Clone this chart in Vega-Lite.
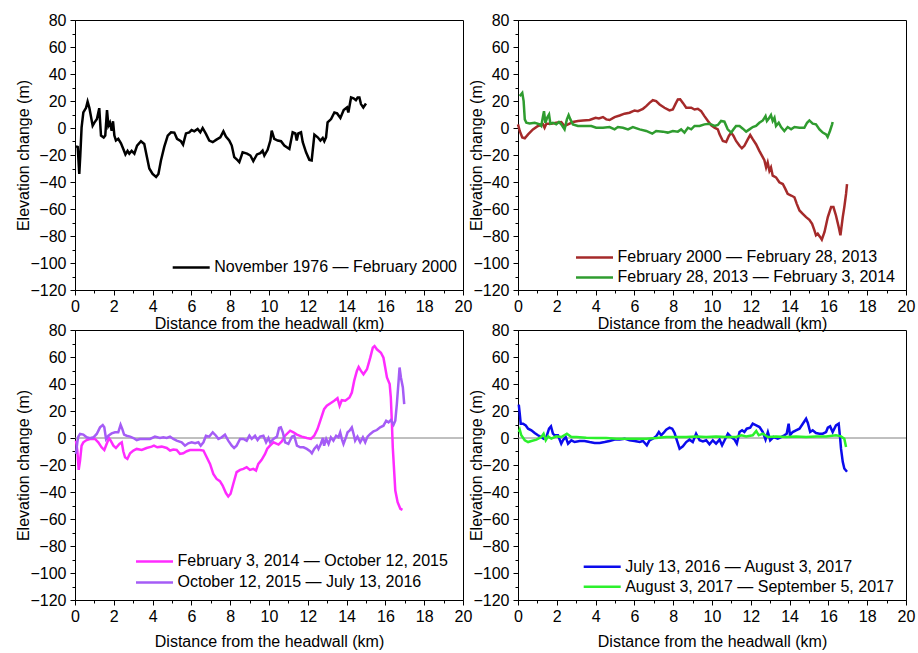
{
  "$schema": "https://vega.github.io/schema/vega-lite/v6.json",
  "background": "white",
  "padding": {"left": 14, "top": 11, "right": 5, "bottom": 5},
  "columns": 2,
  "spacing": {"row": 40, "column": 55},
  "bounds": "flush",
  "resolve": {"scale": {"color": "independent"}, "legend": {"color": "independent"}},
  "config": {
    "font": "Liberation Sans",
    "view": {"stroke": "#000000", "strokeWidth": 1},
    "axis": {
      "domainColor": "#000000", "tickColor": "#000000", "labelColor": "#000000", "titleColor": "#000000",
      "labelFont": "Liberation Sans", "labelFontSize": 16, "titleFont": "Liberation Sans", "titleFontSize": 16,
      "titleFontWeight": "normal", "grid": false, "labelFlush": false, "labelOverlap": false,
      "tickWidth": 1, "domainWidth": 1
    },
    "legend": {
      "orient": "none", "symbolType": "stroke", "symbolSize": 1369, "symbolStrokeWidth": 2.5,
      "labelFont": "Liberation Sans", "labelFontSize": 16, "labelColor": "#000000", "labelLimit": 0,
      "clipHeight": 16, "rowPadding": 4, "padding": 0, "labelOffset": 3
    }
  },
  "concat": [
    {
      "width": 388, "height": 270,
      "data": {"values": [
        {"km":0.05,"dz":-13.7,"s":"A"},{"km":0.14,"dz":-14,"s":"A"},{"km":0.22,"dz":-34,"s":"A"},{"km":0.27,"dz":-21,"s":"A"},{"km":0.34,"dz":0.5,"s":"A"},{"km":0.43,"dz":11.5,"s":"A"},{"km":0.57,"dz":15,"s":"A"},{"km":0.65,"dz":19.6,"s":"A"},{"km":0.74,"dz":15,"s":"A"},{"km":0.91,"dz":1.7,"s":"A"},{"km":1.0,"dz":4,"s":"A"},{"km":1.13,"dz":6.6,"s":"A"},{"km":1.25,"dz":14.7,"s":"A"},{"km":1.34,"dz":-5.6,"s":"A"},{"km":1.48,"dz":-7,"s":"A"},{"km":1.56,"dz":-5.6,"s":"A"},{"km":1.65,"dz":13.3,"s":"A"},{"km":1.72,"dz":1.7,"s":"A"},{"km":1.8,"dz":4,"s":"A"},{"km":1.89,"dz":-2,"s":"A"},{"km":1.96,"dz":5,"s":"A"},{"km":2.03,"dz":-5.6,"s":"A"},{"km":2.11,"dz":-9.3,"s":"A"},{"km":2.23,"dz":-8,"s":"A"},{"km":2.37,"dz":-11.3,"s":"A"},{"km":2.49,"dz":-15.5,"s":"A"},{"km":2.6,"dz":-19.6,"s":"A"},{"km":2.71,"dz":-17,"s":"A"},{"km":2.8,"dz":-19,"s":"A"},{"km":2.92,"dz":-17,"s":"A"},{"km":3.06,"dz":-19,"s":"A"},{"km":3.2,"dz":-13,"s":"A"},{"km":3.4,"dz":-9.8,"s":"A"},{"km":3.57,"dz":-11.8,"s":"A"},{"km":3.71,"dz":-21.6,"s":"A"},{"km":3.83,"dz":-30,"s":"A"},{"km":4.0,"dz":-34,"s":"A"},{"km":4.18,"dz":-36.3,"s":"A"},{"km":4.3,"dz":-34,"s":"A"},{"km":4.43,"dz":-24,"s":"A"},{"km":4.6,"dz":-14,"s":"A"},{"km":4.78,"dz":-5.6,"s":"A"},{"km":4.95,"dz":-3.2,"s":"A"},{"km":5.12,"dz":-3.4,"s":"A"},{"km":5.26,"dz":-8,"s":"A"},{"km":5.46,"dz":-9.8,"s":"A"},{"km":5.57,"dz":-12.3,"s":"A"},{"km":5.72,"dz":-4,"s":"A"},{"km":5.89,"dz":-3.2,"s":"A"},{"km":6.01,"dz":-1.5,"s":"A"},{"km":6.15,"dz":-2.5,"s":"A"},{"km":6.32,"dz":-0.7,"s":"A"},{"km":6.46,"dz":-3.2,"s":"A"},{"km":6.58,"dz":0,"s":"A"},{"km":6.75,"dz":-4.4,"s":"A"},{"km":6.92,"dz":-9.3,"s":"A"},{"km":7.1,"dz":-10.5,"s":"A"},{"km":7.27,"dz":-8.8,"s":"A"},{"km":7.49,"dz":-6.9,"s":"A"},{"km":7.65,"dz":-2.5,"s":"A"},{"km":7.78,"dz":-6.4,"s":"A"},{"km":7.95,"dz":-9.3,"s":"A"},{"km":8.08,"dz":-13,"s":"A"},{"km":8.21,"dz":-21.6,"s":"A"},{"km":8.39,"dz":-24,"s":"A"},{"km":8.47,"dz":-25.3,"s":"A"},{"km":8.64,"dz":-18,"s":"A"},{"km":8.87,"dz":-19,"s":"A"},{"km":9.04,"dz":-20.4,"s":"A"},{"km":9.19,"dz":-24.5,"s":"A"},{"km":9.38,"dz":-19.6,"s":"A"},{"km":9.55,"dz":-18.6,"s":"A"},{"km":9.67,"dz":-16.7,"s":"A"},{"km":9.76,"dz":-20.4,"s":"A"},{"km":9.93,"dz":-16.2,"s":"A"},{"km":10.07,"dz":-9.3,"s":"A"},{"km":10.14,"dz":-2,"s":"A"},{"km":10.27,"dz":-8,"s":"A"},{"km":10.45,"dz":-9.3,"s":"A"},{"km":10.62,"dz":-9.8,"s":"A"},{"km":10.79,"dz":-13,"s":"A"},{"km":11.05,"dz":-15.5,"s":"A"},{"km":11.22,"dz":-3.2,"s":"A"},{"km":11.36,"dz":-4,"s":"A"},{"km":11.43,"dz":-9.3,"s":"A"},{"km":11.51,"dz":-4,"s":"A"},{"km":11.65,"dz":-3.2,"s":"A"},{"km":11.74,"dz":-10.5,"s":"A"},{"km":11.91,"dz":-18,"s":"A"},{"km":12.08,"dz":-23.6,"s":"A"},{"km":12.2,"dz":-24,"s":"A"},{"km":12.34,"dz":-4.9,"s":"A"},{"km":12.51,"dz":-6.9,"s":"A"},{"km":12.65,"dz":-9.3,"s":"A"},{"km":12.77,"dz":-7.4,"s":"A"},{"km":12.85,"dz":-9.8,"s":"A"},{"km":12.94,"dz":-6.9,"s":"A"},{"km":13.02,"dz":4.2,"s":"A"},{"km":13.2,"dz":6.6,"s":"A"},{"km":13.37,"dz":11.5,"s":"A"},{"km":13.51,"dz":10.8,"s":"A"},{"km":13.68,"dz":7.4,"s":"A"},{"km":13.85,"dz":13.3,"s":"A"},{"km":14.02,"dz":15.2,"s":"A"},{"km":14.09,"dz":11.5,"s":"A"},{"km":14.23,"dz":22.6,"s":"A"},{"km":14.36,"dz":22,"s":"A"},{"km":14.48,"dz":20.6,"s":"A"},{"km":14.57,"dz":22.6,"s":"A"},{"km":14.66,"dz":22.6,"s":"A"},{"km":14.74,"dz":17.7,"s":"A"},{"km":14.86,"dz":15.2,"s":"A"},{"km":15.0,"dz":18.2,"s":"A"}
      ]},
      "mark": {"type": "line", "strokeWidth": 2.5},
      "encoding": {
        "x": {"field": "km", "type": "quantitative", "scale": {"domain": [0, 20], "nice": false, "zero": false},
          "axis": {"values": [0,1,2,3,4,5,6,7,8,9,10,11,12,13,14,15,16,17,18,19,20], "labelExpr": "datum.value % 2 === 0 ? datum.label : ''",
            "tickSize": {"condition": {"test": "datum.value % 2 === 0", "value": 5}, "value": 3}, "labelPadding": 3,
            "title": "Distance from the headwall (km)", "titleY": 33, "titleBaseline": "middle"}},
        "y": {"field": "dz", "type": "quantitative", "scale": {"domain": [-120, 80], "nice": false, "zero": false},
          "axis": {"values": [-120,-110,-100,-90,-80,-70,-60,-50,-40,-30,-20,-10,0,10,20,30,40,50,60,70,80], "labelExpr": "datum.value % 20 === 0 ? datum.label : ''",
            "tickSize": {"condition": {"test": "datum.value % 20 === 0", "value": 5}, "value": 3}, "labelPadding": 4,
            "title": "Elevation change (m)", "titleX": -51.5, "titleBaseline": "middle"}},
        "color": {"field": "s", "type": "nominal", "scale": {"domain": ["A"], "range": ["#000000"]},
          "legend": {"title": null, "orient": "none", "legendX": 96.2, "legendY": 239.4, "labelExpr": "'November 1976 — February 2000'"}}
      }
    },
    {
      "width": 388, "height": 270,
      "data": {"values": [
        {"km":0,"dz":2.7,"s":"A"},{"km":0.09,"dz":-2.2,"s":"A"},{"km":0.22,"dz":-7,"s":"A"},{"km":0.35,"dz":-7.6,"s":"A"},{"km":0.52,"dz":-4.7,"s":"A"},{"km":0.77,"dz":-1,"s":"A"},{"km":1.03,"dz":1.5,"s":"A"},{"km":1.29,"dz":2.7,"s":"A"},{"km":1.37,"dz":0.2,"s":"A"},{"km":1.46,"dz":3.2,"s":"A"},{"km":1.72,"dz":3.2,"s":"A"},{"km":1.97,"dz":3.9,"s":"A"},{"km":2.23,"dz":4.4,"s":"A"},{"km":2.4,"dz":1.5,"s":"A"},{"km":2.58,"dz":2.7,"s":"A"},{"km":2.83,"dz":4.4,"s":"A"},{"km":3.09,"dz":5.2,"s":"A"},{"km":3.35,"dz":5.6,"s":"A"},{"km":3.69,"dz":5.9,"s":"A"},{"km":4.0,"dz":7.6,"s":"A"},{"km":4.17,"dz":7.1,"s":"A"},{"km":4.38,"dz":8.1,"s":"A"},{"km":4.55,"dz":6.4,"s":"A"},{"km":4.72,"dz":5.9,"s":"A"},{"km":4.98,"dz":8.1,"s":"A"},{"km":5.24,"dz":9.3,"s":"A"},{"km":5.49,"dz":10.6,"s":"A"},{"km":5.75,"dz":11.3,"s":"A"},{"km":6.01,"dz":13,"s":"A"},{"km":6.18,"dz":12.5,"s":"A"},{"km":6.44,"dz":14.2,"s":"A"},{"km":6.61,"dz":16.2,"s":"A"},{"km":6.78,"dz":18.6,"s":"A"},{"km":6.95,"dz":20.6,"s":"A"},{"km":7.12,"dz":19.9,"s":"A"},{"km":7.3,"dz":17.4,"s":"A"},{"km":7.55,"dz":15,"s":"A"},{"km":7.81,"dz":13,"s":"A"},{"km":7.98,"dz":13.7,"s":"A"},{"km":8.12,"dz":17.9,"s":"A"},{"km":8.24,"dz":21.1,"s":"A"},{"km":8.36,"dz":21.3,"s":"A"},{"km":8.5,"dz":18.6,"s":"A"},{"km":8.67,"dz":15,"s":"A"},{"km":8.93,"dz":15,"s":"A"},{"km":9.1,"dz":13.7,"s":"A"},{"km":9.27,"dz":14.2,"s":"A"},{"km":9.44,"dz":12.5,"s":"A"},{"km":9.61,"dz":8.8,"s":"A"},{"km":9.79,"dz":5.2,"s":"A"},{"km":9.96,"dz":2,"s":"A"},{"km":10.13,"dz":0.2,"s":"A"},{"km":10.3,"dz":-1,"s":"A"},{"km":10.39,"dz":-4.7,"s":"A"},{"km":10.56,"dz":-9.6,"s":"A"},{"km":10.73,"dz":-10.3,"s":"A"},{"km":10.87,"dz":-5.9,"s":"A"},{"km":10.99,"dz":-3.4,"s":"A"},{"km":11.11,"dz":-5.9,"s":"A"},{"km":11.24,"dz":-9.6,"s":"A"},{"km":11.42,"dz":-13.2,"s":"A"},{"km":11.54,"dz":-15,"s":"A"},{"km":11.67,"dz":-13.2,"s":"A"},{"km":11.85,"dz":-8.3,"s":"A"},{"km":11.97,"dz":-5.2,"s":"A"},{"km":12.1,"dz":-8.3,"s":"A"},{"km":12.27,"dz":-12,"s":"A"},{"km":12.44,"dz":-16.9,"s":"A"},{"km":12.58,"dz":-20.6,"s":"A"},{"km":12.7,"dz":-23.8,"s":"A"},{"km":12.79,"dz":-29.2,"s":"A"},{"km":12.87,"dz":-25.5,"s":"A"},{"km":12.96,"dz":-31.7,"s":"A"},{"km":13.04,"dz":-29.2,"s":"A"},{"km":13.13,"dz":-35.3,"s":"A"},{"km":13.3,"dz":-36.6,"s":"A"},{"km":13.47,"dz":-40.2,"s":"A"},{"km":13.65,"dz":-41.5,"s":"A"},{"km":13.78,"dz":-45.1,"s":"A"},{"km":13.9,"dz":-48.8,"s":"A"},{"km":14.08,"dz":-50,"s":"A"},{"km":14.25,"dz":-51.3,"s":"A"},{"km":14.37,"dz":-56.2,"s":"A"},{"km":14.51,"dz":-61.1,"s":"A"},{"km":14.68,"dz":-63.6,"s":"A"},{"km":14.85,"dz":-66,"s":"A"},{"km":15.02,"dz":-68,"s":"A"},{"km":15.16,"dz":-70.9,"s":"A"},{"km":15.28,"dz":-75.8,"s":"A"},{"km":15.36,"dz":-79.5,"s":"A"},{"km":15.45,"dz":-78.3,"s":"A"},{"km":15.57,"dz":-80.7,"s":"A"},{"km":15.66,"dz":-82.7,"s":"A"},{"km":15.8,"dz":-77,"s":"A"},{"km":15.97,"dz":-66,"s":"A"},{"km":16.14,"dz":-58.6,"s":"A"},{"km":16.26,"dz":-58.6,"s":"A"},{"km":16.39,"dz":-64.8,"s":"A"},{"km":16.53,"dz":-73.4,"s":"A"},{"km":16.62,"dz":-79.5,"s":"A"},{"km":16.74,"dz":-66,"s":"A"},{"km":16.82,"dz":-58.6,"s":"A"},{"km":16.91,"dz":-48.8,"s":"A"},{"km":16.96,"dz":-41.5,"s":"A"},
        {"km":0.09,"dz":23.6,"s":"B"},{"km":0.22,"dz":26,"s":"B"},{"km":0.29,"dz":19.9,"s":"B"},{"km":0.35,"dz":6.4,"s":"B"},{"km":0.43,"dz":3.9,"s":"B"},{"km":0.6,"dz":3.4,"s":"B"},{"km":0.86,"dz":3.9,"s":"B"},{"km":1.12,"dz":2.7,"s":"B"},{"km":1.2,"dz":1.5,"s":"B"},{"km":1.29,"dz":8.8,"s":"B"},{"km":1.34,"dz":12.5,"s":"B"},{"km":1.41,"dz":3.9,"s":"B"},{"km":1.5,"dz":7.6,"s":"B"},{"km":1.6,"dz":10,"s":"B"},{"km":1.67,"dz":3.2,"s":"B"},{"km":1.8,"dz":3.9,"s":"B"},{"km":1.97,"dz":2.7,"s":"B"},{"km":2.11,"dz":4.4,"s":"B"},{"km":2.23,"dz":2.7,"s":"B"},{"km":2.4,"dz":-1,"s":"B"},{"km":2.52,"dz":6.4,"s":"B"},{"km":2.61,"dz":9.6,"s":"B"},{"km":2.7,"dz":6.4,"s":"B"},{"km":2.83,"dz":2.7,"s":"B"},{"km":3.09,"dz":1.5,"s":"B"},{"km":3.43,"dz":1.5,"s":"B"},{"km":3.78,"dz":1.5,"s":"B"},{"km":4.03,"dz":0.2,"s":"B"},{"km":4.38,"dz":0.2,"s":"B"},{"km":4.72,"dz":0.7,"s":"B"},{"km":4.98,"dz":-1,"s":"B"},{"km":5.15,"dz":0.7,"s":"B"},{"km":5.41,"dz":0.2,"s":"B"},{"km":5.67,"dz":-1,"s":"B"},{"km":5.92,"dz":0.7,"s":"B"},{"km":6.27,"dz":-1,"s":"B"},{"km":6.61,"dz":-2.2,"s":"B"},{"km":6.92,"dz":-4.2,"s":"B"},{"km":7.12,"dz":-2.2,"s":"B"},{"km":7.47,"dz":-2.7,"s":"B"},{"km":7.72,"dz":-3.4,"s":"B"},{"km":7.98,"dz":-2.2,"s":"B"},{"km":8.24,"dz":-2.7,"s":"B"},{"km":8.41,"dz":-1,"s":"B"},{"km":8.58,"dz":-3.4,"s":"B"},{"km":8.76,"dz":0.2,"s":"B"},{"km":8.93,"dz":-1,"s":"B"},{"km":9.1,"dz":1.5,"s":"B"},{"km":9.36,"dz":1.5,"s":"B"},{"km":9.61,"dz":2.7,"s":"B"},{"km":9.87,"dz":3.2,"s":"B"},{"km":10.13,"dz":1.5,"s":"B"},{"km":10.3,"dz":2.2,"s":"B"},{"km":10.47,"dz":5.2,"s":"B"},{"km":10.64,"dz":4.7,"s":"B"},{"km":10.81,"dz":-1,"s":"B"},{"km":10.99,"dz":-3.4,"s":"B"},{"km":11.11,"dz":-1,"s":"B"},{"km":11.24,"dz":1.5,"s":"B"},{"km":11.42,"dz":1.5,"s":"B"},{"km":11.59,"dz":-0.5,"s":"B"},{"km":11.76,"dz":-2.7,"s":"B"},{"km":11.93,"dz":-1,"s":"B"},{"km":12.1,"dz":0.7,"s":"B"},{"km":12.27,"dz":1.5,"s":"B"},{"km":12.44,"dz":3.9,"s":"B"},{"km":12.62,"dz":5.6,"s":"B"},{"km":12.76,"dz":8.8,"s":"B"},{"km":12.83,"dz":5.2,"s":"B"},{"km":12.93,"dz":7.1,"s":"B"},{"km":13.04,"dz":9.6,"s":"B"},{"km":13.13,"dz":5.2,"s":"B"},{"km":13.22,"dz":7.6,"s":"B"},{"km":13.3,"dz":1.5,"s":"B"},{"km":13.44,"dz":3.9,"s":"B"},{"km":13.56,"dz":0.7,"s":"B"},{"km":13.73,"dz":-2.2,"s":"B"},{"km":13.9,"dz":0.7,"s":"B"},{"km":14.08,"dz":-1,"s":"B"},{"km":14.25,"dz":0.7,"s":"B"},{"km":14.51,"dz":0.2,"s":"B"},{"km":14.76,"dz":0.2,"s":"B"},{"km":14.9,"dz":3.9,"s":"B"},{"km":15.02,"dz":5.6,"s":"B"},{"km":15.19,"dz":3.2,"s":"B"},{"km":15.36,"dz":2.7,"s":"B"},{"km":15.54,"dz":-1,"s":"B"},{"km":15.71,"dz":-3.4,"s":"B"},{"km":15.88,"dz":-4.7,"s":"B"},{"km":15.96,"dz":-6.6,"s":"B"},{"km":16.08,"dz":-2.2,"s":"B"},{"km":16.19,"dz":2.7,"s":"B"},{"km":16.22,"dz":4.4,"s":"B"}
      ]},
      "mark": {"type": "line", "strokeWidth": 2.5},
      "encoding": {
        "x": {"field": "km", "type": "quantitative", "scale": {"domain": [0, 20], "nice": false, "zero": false},
          "axis": {"values": [0,1,2,3,4,5,6,7,8,9,10,11,12,13,14,15,16,17,18,19,20], "labelExpr": "datum.value % 2 === 0 ? datum.label : ''",
            "tickSize": {"condition": {"test": "datum.value % 2 === 0", "value": 5}, "value": 3}, "labelPadding": 3,
            "title": "Distance from the headwall (km)", "titleY": 33, "titleBaseline": "middle"}},
        "y": {"field": "dz", "type": "quantitative", "scale": {"domain": [-120, 80], "nice": false, "zero": false},
          "axis": {"values": [-120,-110,-100,-90,-80,-70,-60,-50,-40,-30,-20,-10,0,10,20,30,40,50,60,70,80], "labelExpr": "datum.value % 20 === 0 ? datum.label : ''",
            "tickSize": {"condition": {"test": "datum.value % 20 === 0", "value": 5}, "value": 3}, "labelPadding": 4,
            "title": "Elevation change (m)", "titleX": -42, "titleBaseline": "middle"}},
        "color": {"field": "s", "type": "nominal", "scale": {"domain": ["A", "B"], "range": ["#a52a2a", "#2f9c2f"]},
          "legend": {"title": null, "orient": "none", "legendX": 56.5, "legendY": 229.4, "labelExpr": "datum.label == 'A' ? 'February 2000 — February 28, 2013' : 'February 28, 2013 — February 3, 2014'"}}
      }
    },
    {
      "width": 388, "height": 270,
      "layer": [
        {"data": {"values": [{}]}, "mark": {"type": "rule", "color": "#808080", "strokeWidth": 1},
          "encoding": {"y": {"datum": 0, "type": "quantitative", "scale": {"domain": [-120, 80], "nice": false, "zero": false},
            "axis": {"values": [-120,-110,-100,-90,-80,-70,-60,-50,-40,-30,-20,-10,0,10,20,30,40,50,60,70,80], "labelExpr": "datum.value % 20 === 0 ? datum.label : ''",
              "tickSize": {"condition": {"test": "datum.value % 20 === 0", "value": 5}, "value": 3}, "labelPadding": 4,
              "title": "Elevation change (m)", "titleX": -51.5, "titleBaseline": "middle"}}}},
        {
          "data": {"values": [
            {"km":0.05,"dz":-2,"s":"A"},{"km":0.12,"dz":-9.3,"s":"A"},{"km":0.19,"dz":-23.6,"s":"A"},{"km":0.26,"dz":-16.7,"s":"A"},{"km":0.34,"dz":-5.7,"s":"A"},{"km":0.43,"dz":-3.2,"s":"A"},{"km":0.6,"dz":-1.5,"s":"A"},{"km":0.77,"dz":-0.7,"s":"A"},{"km":1.03,"dz":-0.7,"s":"A"},{"km":1.2,"dz":-3.2,"s":"A"},{"km":1.37,"dz":-6.9,"s":"A"},{"km":1.51,"dz":-8.9,"s":"A"},{"km":1.63,"dz":-4.4,"s":"A"},{"km":1.75,"dz":0,"s":"A"},{"km":1.84,"dz":-2,"s":"A"},{"km":1.98,"dz":-5.7,"s":"A"},{"km":2.11,"dz":-7.4,"s":"A"},{"km":2.29,"dz":-4.4,"s":"A"},{"km":2.41,"dz":-3.2,"s":"A"},{"km":2.49,"dz":-9.8,"s":"A"},{"km":2.58,"dz":-14.3,"s":"A"},{"km":2.7,"dz":-15.5,"s":"A"},{"km":2.84,"dz":-11.3,"s":"A"},{"km":3.01,"dz":-9.3,"s":"A"},{"km":3.18,"dz":-8.1,"s":"A"},{"km":3.44,"dz":-8.9,"s":"A"},{"km":3.69,"dz":-7.4,"s":"A"},{"km":3.95,"dz":-6.4,"s":"A"},{"km":4.07,"dz":-5.7,"s":"A"},{"km":4.24,"dz":-6.9,"s":"A"},{"km":4.47,"dz":-6.4,"s":"A"},{"km":4.73,"dz":-7.4,"s":"A"},{"km":4.9,"dz":-9.3,"s":"A"},{"km":5.07,"dz":-8.6,"s":"A"},{"km":5.24,"dz":-8.9,"s":"A"},{"km":5.41,"dz":-11.8,"s":"A"},{"km":5.58,"dz":-11.3,"s":"A"},{"km":5.76,"dz":-9.8,"s":"A"},{"km":5.93,"dz":-8.9,"s":"A"},{"km":6.19,"dz":-8.9,"s":"A"},{"km":6.44,"dz":-8.9,"s":"A"},{"km":6.62,"dz":-9.3,"s":"A"},{"km":6.79,"dz":-14.3,"s":"A"},{"km":6.96,"dz":-19.2,"s":"A"},{"km":7.13,"dz":-26.6,"s":"A"},{"km":7.3,"dz":-30.3,"s":"A"},{"km":7.47,"dz":-32,"s":"A"},{"km":7.61,"dz":-35.2,"s":"A"},{"km":7.78,"dz":-40.8,"s":"A"},{"km":7.9,"dz":-43.3,"s":"A"},{"km":8.02,"dz":-41.3,"s":"A"},{"km":8.16,"dz":-33.9,"s":"A"},{"km":8.33,"dz":-25.3,"s":"A"},{"km":8.51,"dz":-23.6,"s":"A"},{"km":8.68,"dz":-22.9,"s":"A"},{"km":8.85,"dz":-21.6,"s":"A"},{"km":9.02,"dz":-23.6,"s":"A"},{"km":9.19,"dz":-22.9,"s":"A"},{"km":9.33,"dz":-24.1,"s":"A"},{"km":9.45,"dz":-19.2,"s":"A"},{"km":9.62,"dz":-16.2,"s":"A"},{"km":9.79,"dz":-12,"s":"A"},{"km":9.91,"dz":-8,"s":"A"},{"km":10.05,"dz":-5.7,"s":"A"},{"km":10.23,"dz":-3.2,"s":"A"},{"km":10.49,"dz":-4.9,"s":"A"},{"km":10.66,"dz":-2.5,"s":"A"},{"km":10.83,"dz":1.7,"s":"A"},{"km":11.09,"dz":5.4,"s":"A"},{"km":11.26,"dz":4.2,"s":"A"},{"km":11.44,"dz":2.5,"s":"A"},{"km":11.69,"dz":1,"s":"A"},{"km":11.95,"dz":0,"s":"A"},{"km":12.16,"dz":-0.7,"s":"A"},{"km":12.33,"dz":1.7,"s":"A"},{"km":12.5,"dz":6.6,"s":"A"},{"km":12.67,"dz":14,"s":"A"},{"km":12.84,"dz":21.4,"s":"A"},{"km":12.98,"dz":23.9,"s":"A"},{"km":13.15,"dz":25.6,"s":"A"},{"km":13.36,"dz":27.6,"s":"A"},{"km":13.53,"dz":29.5,"s":"A"},{"km":13.64,"dz":23.9,"s":"A"},{"km":13.75,"dz":28,"s":"A"},{"km":13.93,"dz":27.6,"s":"A"},{"km":14.15,"dz":30,"s":"A"},{"km":14.27,"dz":33.7,"s":"A"},{"km":14.39,"dz":42.3,"s":"A"},{"km":14.53,"dz":49.7,"s":"A"},{"km":14.62,"dz":52.6,"s":"A"},{"km":14.74,"dz":49.7,"s":"A"},{"km":14.87,"dz":47.2,"s":"A"},{"km":15.05,"dz":50.9,"s":"A"},{"km":15.22,"dz":59.5,"s":"A"},{"km":15.35,"dz":66.9,"s":"A"},{"km":15.44,"dz":68.1,"s":"A"},{"km":15.56,"dz":65.7,"s":"A"},{"km":15.77,"dz":63.2,"s":"A"},{"km":15.9,"dz":59.5,"s":"A"},{"km":15.99,"dz":52.2,"s":"A"},{"km":16.08,"dz":44.8,"s":"A"},{"km":16.22,"dz":39.9,"s":"A"},{"km":16.28,"dz":30,"s":"A"},{"km":16.33,"dz":12.8,"s":"A"},{"km":16.38,"dz":-6.9,"s":"A"},{"km":16.46,"dz":-26.6,"s":"A"},{"km":16.51,"dz":-38.9,"s":"A"},{"km":16.63,"dz":-47.5,"s":"A"},{"km":16.77,"dz":-52.4,"s":"A"},{"km":16.88,"dz":-53.2,"s":"A"},
            {"km":0.05,"dz":-11.8,"s":"B"},{"km":0.12,"dz":-3.2,"s":"B"},{"km":0.17,"dz":1,"s":"B"},{"km":0.26,"dz":3,"s":"B"},{"km":0.43,"dz":2.5,"s":"B"},{"km":0.6,"dz":0.5,"s":"B"},{"km":0.77,"dz":-0.2,"s":"B"},{"km":0.95,"dz":0.5,"s":"B"},{"km":1.12,"dz":3,"s":"B"},{"km":1.29,"dz":7.9,"s":"B"},{"km":1.43,"dz":9.6,"s":"B"},{"km":1.51,"dz":7.9,"s":"B"},{"km":1.6,"dz":-0.7,"s":"B"},{"km":1.72,"dz":1.7,"s":"B"},{"km":1.89,"dz":3.4,"s":"B"},{"km":2.06,"dz":4.2,"s":"B"},{"km":2.23,"dz":4.2,"s":"B"},{"km":2.35,"dz":9.8,"s":"B"},{"km":2.44,"dz":6.6,"s":"B"},{"km":2.53,"dz":2.5,"s":"B"},{"km":2.66,"dz":1.7,"s":"B"},{"km":2.84,"dz":1,"s":"B"},{"km":3.01,"dz":0,"s":"B"},{"km":3.18,"dz":-1.5,"s":"B"},{"km":3.35,"dz":-0.7,"s":"B"},{"km":3.61,"dz":-0.7,"s":"B"},{"km":3.87,"dz":-0.7,"s":"B"},{"km":4.12,"dz":1,"s":"B"},{"km":4.38,"dz":0,"s":"B"},{"km":4.55,"dz":0.5,"s":"B"},{"km":4.73,"dz":0,"s":"B"},{"km":4.9,"dz":1,"s":"B"},{"km":5.07,"dz":-0.7,"s":"B"},{"km":5.24,"dz":-2,"s":"B"},{"km":5.5,"dz":-3.2,"s":"B"},{"km":5.67,"dz":-5.7,"s":"B"},{"km":5.84,"dz":-3.9,"s":"B"},{"km":6.01,"dz":-3.2,"s":"B"},{"km":6.19,"dz":-3.9,"s":"B"},{"km":6.36,"dz":-3.2,"s":"B"},{"km":6.48,"dz":-5.7,"s":"B"},{"km":6.62,"dz":-3.2,"s":"B"},{"km":6.75,"dz":1.7,"s":"B"},{"km":6.92,"dz":1,"s":"B"},{"km":7.1,"dz":4.2,"s":"B"},{"km":7.27,"dz":1.7,"s":"B"},{"km":7.39,"dz":-0.7,"s":"B"},{"km":7.56,"dz":0.5,"s":"B"},{"km":7.73,"dz":2.5,"s":"B"},{"km":7.9,"dz":-2,"s":"B"},{"km":8.08,"dz":-5.7,"s":"B"},{"km":8.2,"dz":-7.4,"s":"B"},{"km":8.33,"dz":-5.7,"s":"B"},{"km":8.51,"dz":-0.7,"s":"B"},{"km":8.68,"dz":-0.7,"s":"B"},{"km":8.85,"dz":-2,"s":"B"},{"km":8.99,"dz":1.7,"s":"B"},{"km":9.11,"dz":-0.7,"s":"B"},{"km":9.28,"dz":1.7,"s":"B"},{"km":9.41,"dz":-1.5,"s":"B"},{"km":9.54,"dz":1,"s":"B"},{"km":9.71,"dz":1.7,"s":"B"},{"km":9.85,"dz":-3.2,"s":"B"},{"km":9.97,"dz":0,"s":"B"},{"km":10.06,"dz":-3.2,"s":"B"},{"km":10.23,"dz":-0.7,"s":"B"},{"km":10.41,"dz":1,"s":"B"},{"km":10.52,"dz":7.4,"s":"B"},{"km":10.61,"dz":7.9,"s":"B"},{"km":10.71,"dz":4.2,"s":"B"},{"km":10.83,"dz":-3.2,"s":"B"},{"km":11.0,"dz":-4.4,"s":"B"},{"km":11.18,"dz":1,"s":"B"},{"km":11.3,"dz":1.7,"s":"B"},{"km":11.44,"dz":-5.7,"s":"B"},{"km":11.61,"dz":-6.9,"s":"B"},{"km":11.78,"dz":-6.9,"s":"B"},{"km":11.95,"dz":-8.1,"s":"B"},{"km":12.12,"dz":-9.8,"s":"B"},{"km":12.21,"dz":-11.3,"s":"B"},{"km":12.33,"dz":-8.1,"s":"B"},{"km":12.47,"dz":-5.7,"s":"B"},{"km":12.55,"dz":-8.1,"s":"B"},{"km":12.67,"dz":-4.4,"s":"B"},{"km":12.78,"dz":0,"s":"B"},{"km":12.84,"dz":-5.7,"s":"B"},{"km":12.95,"dz":-0.7,"s":"B"},{"km":13.07,"dz":-4.4,"s":"B"},{"km":13.19,"dz":0.5,"s":"B"},{"km":13.32,"dz":-2,"s":"B"},{"km":13.46,"dz":1.7,"s":"B"},{"km":13.58,"dz":0.5,"s":"B"},{"km":13.67,"dz":4.2,"s":"B"},{"km":13.76,"dz":-1,"s":"B"},{"km":13.84,"dz":-4.4,"s":"B"},{"km":13.98,"dz":1,"s":"B"},{"km":14.05,"dz":4.2,"s":"B"},{"km":14.15,"dz":5.4,"s":"B"},{"km":14.27,"dz":7.9,"s":"B"},{"km":14.36,"dz":3,"s":"B"},{"km":14.44,"dz":-2,"s":"B"},{"km":14.56,"dz":1,"s":"B"},{"km":14.7,"dz":-3.2,"s":"B"},{"km":14.84,"dz":0.5,"s":"B"},{"km":14.96,"dz":-3.2,"s":"B"},{"km":15.08,"dz":1,"s":"B"},{"km":15.22,"dz":3,"s":"B"},{"km":15.39,"dz":4.9,"s":"B"},{"km":15.56,"dz":5.9,"s":"B"},{"km":15.73,"dz":7.9,"s":"B"},{"km":15.9,"dz":9.1,"s":"B"},{"km":16.04,"dz":12.8,"s":"B"},{"km":16.16,"dz":11.6,"s":"B"},{"km":16.28,"dz":13.3,"s":"B"},{"km":16.42,"dz":9.8,"s":"B"},{"km":16.51,"dz":12.8,"s":"B"},{"km":16.59,"dz":25.1,"s":"B"},{"km":16.68,"dz":42.3,"s":"B"},{"km":16.73,"dz":52.2,"s":"B"},{"km":16.8,"dz":44.8,"s":"B"},{"km":16.9,"dz":37.4,"s":"B"},{"km":16.97,"dz":25.1,"s":"B"}
          ]},
          "mark": {"type": "line", "strokeWidth": 2.5},
          "encoding": {
            "x": {"field": "km", "type": "quantitative", "scale": {"domain": [0, 20], "nice": false, "zero": false},
              "axis": {"values": [0,1,2,3,4,5,6,7,8,9,10,11,12,13,14,15,16,17,18,19,20], "labelExpr": "datum.value % 2 === 0 ? datum.label : ''",
                "tickSize": {"condition": {"test": "datum.value % 2 === 0", "value": 5}, "value": 3}, "labelPadding": 3,
                "title": "Distance from the headwall (km)", "titleY": 41, "titleBaseline": "middle"}},
            "y": {"field": "dz", "type": "quantitative", "scale": {"domain": [-120, 80], "nice": false, "zero": false},
              "axis": {"values": [-120,-110,-100,-90,-80,-70,-60,-50,-40,-30,-20,-10,0,10,20,30,40,50,60,70,80], "labelExpr": "datum.value % 20 === 0 ? datum.label : ''",
                "tickSize": {"condition": {"test": "datum.value % 20 === 0", "value": 5}, "value": 3}, "labelPadding": 4,
                "title": "Elevation change (m)", "titleX": -51.5, "titleBaseline": "middle"}},
            "color": {"field": "s", "type": "nominal", "scale": {"domain": ["A", "B"], "range": ["#ff2bff", "#a55cf6"]},
              "legend": {"title": null, "orient": "none", "legendX": 59.5, "legendY": 223.4, "rowPadding": 5, "labelExpr": "datum.label == 'A' ? 'February 3, 2014 — October 12, 2015' : 'October 12, 2015 — July 13, 2016'"}}
          }
        }
      ]
    },
    {
      "width": 388, "height": 270,
      "layer": [
        {"data": {"values": [{}]}, "mark": {"type": "rule", "color": "#808080", "strokeWidth": 1},
          "encoding": {"y": {"datum": 0, "type": "quantitative", "scale": {"domain": [-120, 80], "nice": false, "zero": false},
            "axis": {"values": [-120,-110,-100,-90,-80,-70,-60,-50,-40,-30,-20,-10,0,10,20,30,40,50,60,70,80], "labelExpr": "datum.value % 20 === 0 ? datum.label : ''",
              "tickSize": {"condition": {"test": "datum.value % 20 === 0", "value": 5}, "value": 3}, "labelPadding": 4,
              "title": "Elevation change (m)", "titleX": -42, "titleBaseline": "middle"}}}},
        {
          "data": {"values": [
            {"km":0.04,"dz":24.8,"s":"A"},{"km":0.09,"dz":18,"s":"A"},{"km":0.14,"dz":10.6,"s":"A"},{"km":0.26,"dz":10.6,"s":"A"},{"km":0.4,"dz":9.3,"s":"A"},{"km":0.52,"dz":6.9,"s":"A"},{"km":0.69,"dz":5.7,"s":"A"},{"km":0.86,"dz":3.7,"s":"A"},{"km":1.03,"dz":2,"s":"A"},{"km":1.2,"dz":0.7,"s":"A"},{"km":1.32,"dz":-0.5,"s":"A"},{"km":1.46,"dz":0.7,"s":"A"},{"km":1.6,"dz":6.9,"s":"A"},{"km":1.7,"dz":8.6,"s":"A"},{"km":1.8,"dz":3.2,"s":"A"},{"km":1.89,"dz":2,"s":"A"},{"km":2.06,"dz":2,"s":"A"},{"km":2.23,"dz":-4.2,"s":"A"},{"km":2.32,"dz":-1.7,"s":"A"},{"km":2.46,"dz":0.7,"s":"A"},{"km":2.58,"dz":-4.2,"s":"A"},{"km":2.75,"dz":-1.7,"s":"A"},{"km":2.92,"dz":-3,"s":"A"},{"km":3.18,"dz":-2.2,"s":"A"},{"km":3.43,"dz":-2.2,"s":"A"},{"km":3.69,"dz":-3,"s":"A"},{"km":3.95,"dz":-3.7,"s":"A"},{"km":4.21,"dz":-3.7,"s":"A"},{"km":4.47,"dz":-3,"s":"A"},{"km":4.72,"dz":-2.2,"s":"A"},{"km":4.98,"dz":-1.2,"s":"A"},{"km":5.24,"dz":-1.2,"s":"A"},{"km":5.49,"dz":-0.5,"s":"A"},{"km":5.75,"dz":-1.7,"s":"A"},{"km":6.01,"dz":-2.2,"s":"A"},{"km":6.27,"dz":-3,"s":"A"},{"km":6.44,"dz":-2.2,"s":"A"},{"km":6.64,"dz":-5.4,"s":"A"},{"km":6.78,"dz":-1.7,"s":"A"},{"km":6.95,"dz":-0.5,"s":"A"},{"km":7.12,"dz":1.2,"s":"A"},{"km":7.26,"dz":4.4,"s":"A"},{"km":7.38,"dz":2,"s":"A"},{"km":7.5,"dz":3.7,"s":"A"},{"km":7.64,"dz":6.2,"s":"A"},{"km":7.81,"dz":7.6,"s":"A"},{"km":7.95,"dz":6.9,"s":"A"},{"km":8.07,"dz":3.7,"s":"A"},{"km":8.19,"dz":-1.7,"s":"A"},{"km":8.33,"dz":-7.9,"s":"A"},{"km":8.5,"dz":-6.2,"s":"A"},{"km":8.67,"dz":-3,"s":"A"},{"km":8.84,"dz":-1.2,"s":"A"},{"km":9.01,"dz":-3,"s":"A"},{"km":9.18,"dz":3.2,"s":"A"},{"km":9.36,"dz":-1.7,"s":"A"},{"km":9.53,"dz":-2.5,"s":"A"},{"km":9.7,"dz":-1.7,"s":"A"},{"km":9.87,"dz":-4.7,"s":"A"},{"km":10.04,"dz":-1.7,"s":"A"},{"km":10.21,"dz":-4.2,"s":"A"},{"km":10.39,"dz":-1.2,"s":"A"},{"km":10.52,"dz":-5.4,"s":"A"},{"km":10.65,"dz":-1.7,"s":"A"},{"km":10.82,"dz":3.2,"s":"A"},{"km":10.99,"dz":0.7,"s":"A"},{"km":11.16,"dz":-1.2,"s":"A"},{"km":11.28,"dz":-4.2,"s":"A"},{"km":11.42,"dz":4.4,"s":"A"},{"km":11.55,"dz":5.7,"s":"A"},{"km":11.67,"dz":4.4,"s":"A"},{"km":11.79,"dz":6.9,"s":"A"},{"km":11.97,"dz":7.6,"s":"A"},{"km":12.1,"dz":10.6,"s":"A"},{"km":12.28,"dz":9.3,"s":"A"},{"km":12.45,"dz":8.1,"s":"A"},{"km":12.62,"dz":4.4,"s":"A"},{"km":12.76,"dz":-1.2,"s":"A"},{"km":12.88,"dz":4.4,"s":"A"},{"km":13.0,"dz":-1.7,"s":"A"},{"km":13.17,"dz":0.7,"s":"A"},{"km":13.39,"dz":-0.5,"s":"A"},{"km":13.56,"dz":0.7,"s":"A"},{"km":13.73,"dz":2,"s":"A"},{"km":13.85,"dz":3.2,"s":"A"},{"km":13.95,"dz":10.6,"s":"A"},{"km":14.02,"dz":2,"s":"A"},{"km":14.16,"dz":4.4,"s":"A"},{"km":14.33,"dz":5.7,"s":"A"},{"km":14.51,"dz":6.9,"s":"A"},{"km":14.68,"dz":10.6,"s":"A"},{"km":14.85,"dz":14.3,"s":"A"},{"km":14.94,"dz":11.1,"s":"A"},{"km":15.06,"dz":4.4,"s":"A"},{"km":15.19,"dz":5.7,"s":"A"},{"km":15.36,"dz":3.7,"s":"A"},{"km":15.54,"dz":3.2,"s":"A"},{"km":15.71,"dz":3.2,"s":"A"},{"km":15.88,"dz":4.4,"s":"A"},{"km":15.97,"dz":7.6,"s":"A"},{"km":16.09,"dz":8.6,"s":"A"},{"km":16.22,"dz":4.4,"s":"A"},{"km":16.39,"dz":9.3,"s":"A"},{"km":16.53,"dz":10.6,"s":"A"},{"km":16.6,"dz":0.7,"s":"A"},{"km":16.65,"dz":-7.9,"s":"A"},{"km":16.74,"dz":-17.7,"s":"A"},{"km":16.82,"dz":-22.6,"s":"A"},{"km":16.96,"dz":-25,"s":"A"},
            {"km":0.04,"dz":4.4,"s":"B"},{"km":0.09,"dz":6.2,"s":"B"},{"km":0.17,"dz":2,"s":"B"},{"km":0.35,"dz":-1.7,"s":"B"},{"km":0.52,"dz":-3,"s":"B"},{"km":0.69,"dz":-2.2,"s":"B"},{"km":0.95,"dz":-1.2,"s":"B"},{"km":1.2,"dz":0.7,"s":"B"},{"km":1.32,"dz":3.2,"s":"B"},{"km":1.43,"dz":-1.7,"s":"B"},{"km":1.55,"dz":1.2,"s":"B"},{"km":1.72,"dz":-0.5,"s":"B"},{"km":1.97,"dz":1.2,"s":"B"},{"km":2.23,"dz":0.7,"s":"B"},{"km":2.52,"dz":3.2,"s":"B"},{"km":2.75,"dz":0.7,"s":"B"},{"km":3.01,"dz":0.7,"s":"B"},{"km":3.52,"dz":0.2,"s":"B"},{"km":4.03,"dz":0,"s":"B"},{"km":4.55,"dz":0,"s":"B"},{"km":5.07,"dz":-0.5,"s":"B"},{"km":5.58,"dz":-0.5,"s":"B"},{"km":6.1,"dz":-0.5,"s":"B"},{"km":6.61,"dz":-0.5,"s":"B"},{"km":7.12,"dz":0,"s":"B"},{"km":7.64,"dz":0.7,"s":"B"},{"km":8.16,"dz":0.7,"s":"B"},{"km":8.67,"dz":0.7,"s":"B"},{"km":9.18,"dz":1.2,"s":"B"},{"km":9.7,"dz":0.7,"s":"B"},{"km":10.21,"dz":1.2,"s":"B"},{"km":10.73,"dz":0.7,"s":"B"},{"km":11.25,"dz":0.7,"s":"B"},{"km":11.51,"dz":2,"s":"B"},{"km":11.76,"dz":1.2,"s":"B"},{"km":12.1,"dz":2,"s":"B"},{"km":12.28,"dz":5.2,"s":"B"},{"km":12.41,"dz":2,"s":"B"},{"km":12.62,"dz":3.2,"s":"B"},{"km":12.88,"dz":0.7,"s":"B"},{"km":13.3,"dz":1.2,"s":"B"},{"km":13.82,"dz":0.7,"s":"B"},{"km":14.33,"dz":1.2,"s":"B"},{"km":14.85,"dz":0.7,"s":"B"},{"km":15.36,"dz":1.2,"s":"B"},{"km":15.88,"dz":1.2,"s":"B"},{"km":16.39,"dz":2,"s":"B"},{"km":16.65,"dz":1.2,"s":"B"},{"km":16.82,"dz":-0.5,"s":"B"},{"km":16.91,"dz":-6.6,"s":"B"}
          ]},
          "mark": {"type": "line", "strokeWidth": 2.5},
          "encoding": {
            "x": {"field": "km", "type": "quantitative", "scale": {"domain": [0, 20], "nice": false, "zero": false},
              "axis": {"values": [0,1,2,3,4,5,6,7,8,9,10,11,12,13,14,15,16,17,18,19,20], "labelExpr": "datum.value % 2 === 0 ? datum.label : ''",
                "tickSize": {"condition": {"test": "datum.value % 2 === 0", "value": 5}, "value": 3}, "labelPadding": 3,
                "title": "Distance from the headwall (km)", "titleY": 41, "titleBaseline": "middle"}},
            "y": {"field": "dz", "type": "quantitative", "scale": {"domain": [-120, 80], "nice": false, "zero": false},
              "axis": {"values": [-120,-110,-100,-90,-80,-70,-60,-50,-40,-30,-20,-10,0,10,20,30,40,50,60,70,80], "labelExpr": "datum.value % 20 === 0 ? datum.label : ''",
                "tickSize": {"condition": {"test": "datum.value % 20 === 0", "value": 5}, "value": 3}, "labelPadding": 4,
                "title": "Elevation change (m)", "titleX": -42, "titleBaseline": "middle"}},
            "color": {"field": "s", "type": "nominal", "scale": {"domain": ["A", "B"], "range": ["#0b0bec", "#2cf02c"]},
              "legend": {"title": null, "orient": "none", "legendX": 64.2, "legendY": 228.7, "labelExpr": "datum.label == 'A' ? 'July 13, 2016 — August 3, 2017' : 'August 3, 2017 — September 5, 2017'"}}
          }
        }
      ]
    }
  ]
}
